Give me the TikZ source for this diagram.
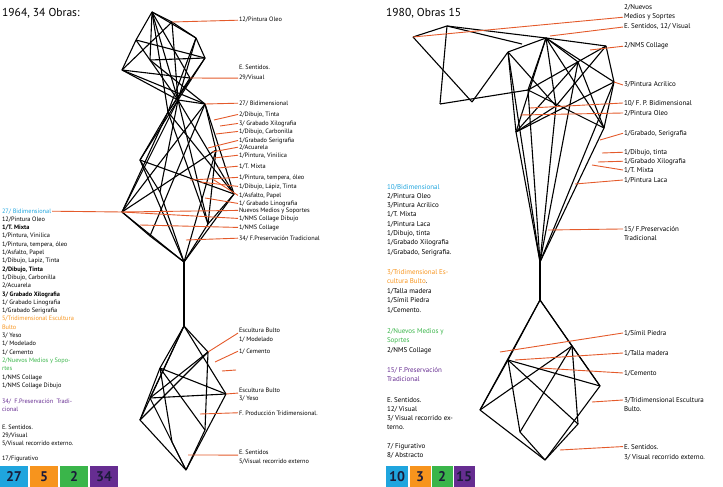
\documentclass[tikz,border=0pt]{standalone}
\usepackage{fontspec}
\setmainfont{PT Sans}
\definecolor{lineorange}{HTML}{E45A2B}
\definecolor{legblue}{HTML}{1FA5DE}
\definecolor{legorange}{HTML}{F7941D}
\definecolor{leggreen}{HTML}{3AB54A}
\definecolor{legpurple}{HTML}{662D91}
\definecolor{boxtext}{HTML}{1B1B3A}
\tikzset{
  net/.style={black,line width=1.1pt,line join=round},
  conn/.style={lineorange,line width=0.9pt},
  lbl/.style={anchor=base west,inner sep=0.8pt,font=\fontsize{6.3}{7}\selectfont},
  rlbl/.style={anchor=base west,inner sep=0.8pt,font=\fontsize{7}{8}\selectfont},
  ttl/.style={anchor=base west,inner sep=0pt,font=\fontsize{11.5}{12}\selectfont},
  legbox/.style={minimum height=21pt,inner sep=0pt,text=boxtext,font=\fontsize{14}{14}\selectfont\bfseries}
}
\begin{document}
\begin{tikzpicture}[x=1pt,y=-1pt]
\useasboundingbox (0,0) rectangle (723,487);
\node[ttl] at (2,17){1964, 34 Obras:};
\node[ttl] at (386,17){1980, Obras 15};
%left network
\coordinate (a1) at (152,12); \coordinate (a2) at (172,22); \coordinate (a3) at (136,40);
\coordinate (a4) at (196,38); \coordinate (a5) at (122,70); \coordinate (a6) at (205,58);
\coordinate (a7) at (150,60); \coordinate (a8) at (190,78);
\coordinate (h1) at (178,100); \coordinate (h2) at (205,104); \coordinate (h3) at (168,112);
\coordinate (m1) at (122,212); \coordinate (m2) at (234,194); \coordinate (m3) at (140,160);
\coordinate (m4) at (216,150); \coordinate (m5) at (160,192); \coordinate (m6) at (208,224);
\coordinate (m7) at (150,236);
\coordinate (b1) at (184,262); \coordinate (b2) at (184,326);
\coordinate (l1) at (140,420); \coordinate (l2) at (226,394); \coordinate (l3) at (186,470);
\coordinate (l4) at (160,368); \coordinate (l5) at (208,352); \coordinate (l6) at (172,442);
\coordinate (l7) at (205,430); \coordinate (l8) at (150,398);
\foreach \a/\b in {a1/a2,a1/a3,a1/a4,a1/a7,a1/a8,a1/h1,a1/h3,a2/a4,a2/a5,a2/h1,a3/a5,a3/h1,a3/a6,
  a4/a6,a4/h1,a4/h3,a5/h1,a5/h2,a6/h1,a6/h3,a7/h2,a8/h3,a7/a6,a5/a8,
  h1/h2,h1/m1,h1/m2,h1/m3,h1/m5,h1/m6,h2/m1,h2/m2,h2/m4,h2/m7,h3/m3,h3/m2,h3/m6,h3/m1,
  m3/m5,m4/m6,m1/m4,m3/m2,m1/b1,m2/b1,m3/b1,m4/b1,m5/b1,m6/b1,m7/b1,m1/m7,m2/m6,b1/b2,
  b2/l1,b2/l2,b2/l4,b2/l5,b2/l8,l1/l3,l2/l3,l4/l6,l5/l7,l4/l7,l5/l8,l8/l3,l6/l3,l7/l3,
  l1/l5,l2/l4,l8/l2,l1/l4}
  \draw[net] (\a)--(\b);
%right network
\coordinate (r1) at (413,37); \coordinate (r2) at (447,26); \coordinate (r3) at (472,102);
\coordinate (r4) at (440,104); \coordinate (r5) at (522,44);
\coordinate (s1) at (546,38); \coordinate (s2) at (606,46); \coordinate (s3) at (614,82);
\coordinate (s4) at (508,52); \coordinate (s5) at (516,132); \coordinate (s6) at (604,128);
\coordinate (s7) at (556,106); \coordinate (s8) at (528,90); \coordinate (s9) at (578,62);
\coordinate (s10) at (540,262); \coordinate (s11) at (540,300);
\coordinate (t1) at (480,410); \coordinate (t2) at (600,386); \coordinate (t3) at (545,460);
\coordinate (t4) at (508,360); \coordinate (t5) at (572,346); \coordinate (t6) at (520,432);
\coordinate (t7) at (578,424);
\foreach \a/\b in {r1/r2,r1/r3,r2/r4,r2/r5,r3/s4,r4/s8,r2/s1,
  s1/s2,s1/s4,s1/s5,s1/s6,s1/s7,s1/s8,s1/s9,s1/s3,s2/s3,s2/s7,s2/s8,s3/s6,s3/s5,s4/s5,s4/s7,
  s9/s5,s9/s6,s8/s6,s7/s5,s5/s10,s6/s10,s7/s10,s8/s10,s4/s10,s3/s10,s9/s10,s10/s11,
  s11/t1,s11/t2,s11/t4,s11/t5,t1/t3,t2/t3,t4/t6,t5/t7,t4/t7,t5/t6,t6/t3,t7/t3,t1/t5,t2/t4,t1/t4,t2/t5}
  \draw[net] (\a)--(\b);
%labels of the left figure
\node[lbl] (p1) at (238,22){12/Pintura Oleo};
\node[lbl] at (238,70){E. Sentidos.};
\node[lbl] (p2) at (238,80){29/Visual};
\node[lbl] (p3) at (238,105){27/ Bidimensional};
\node[lbl] (p4) at (238,116){2/Dibujo, Tinta};
\node[lbl] (p5) at (238,125){3/ Grabado Xilografia};
\node[lbl] (p6) at (238,133){1/Dibujo, Carbonilla};
\node[lbl] (p7) at (238,142){1/Grabado Serigrafia};
\node[lbl] (p8) at (238,149){2/Acuarela};
\node[lbl] (p9) at (238,157){1/Pintura, Vinilica};
\node[lbl] (p10) at (238,168){1/T. Mixta};
\node[lbl] (p11) at (238,179){1/Pintura, tempera, óleo};
\node[lbl] (p12) at (238,188){1/Dibujo, Lápiz, Tinta};
\node[lbl] (p13) at (238,197){1/Asfalto, Papel};
\node[lbl] (p14) at (238,205){1/ Grabado Linografia};
\node[lbl] (p15) at (238,212){Nuevos Medios y Soportes};
\node[lbl] (p16) at (238,220){1/NMS Collage Dibujo};
\node[lbl] (p17) at (238,229){1/NMS Collage};
\node[lbl] (p18) at (238,240){34/ F.Preservación Tradicional};
\draw[conn] (a2)--(p1.west);
\draw[conn] (a8)--(p2.west);
\draw[conn] (h2)--(p3.west);
\draw[conn] (214,120)--(p4.west);
\draw[conn] (220,126)--(p5.west);
\draw[conn] (216,134)--(p6.west);
\draw[conn] (208,148)--(p7.west);
\draw[conn] (212,152)--(p8.west);
\draw[conn] (214,158)--(p9.west);
\draw[conn] (218,168)--(p10.west);
\draw[conn] (190,180)--(p11.west);
\draw[conn] (200,182)--(p12.west);
\draw[conn] (214,180)--(p13.west);
\draw[conn] (205,198)--(p14.west);
\draw[conn] (m1)--(p15.west);
\draw[conn] (m1)--(p16.west);
\draw[conn] (140,225)--(p17.west);
\draw[conn] (186,240)--(p18.west);
%lower left labels
\node[lbl] (q0) at (238,332){Escultura Bulto};
\node[lbl] at (238,341){1/ Modelado};
\node[lbl] (q2) at (238,353){1/ Cemento};
\node[lbl] (q3) at (238,392){Escultura Bulto};
\node[lbl] at (238,400){3/ Yeso};
\node[lbl] (q5) at (238,415){F. Producción Tridimensional.};
\node[lbl] (q6) at (238,454){E. Sentidos};
\node[lbl] at (238,463){5/Visual recorrido externo};
\draw[conn] (l5)--(q0.south west);
\draw[conn] (215,362)--(q2.west);
\coordinate (free) at (236,370);
\draw[conn] (222,371)--(free);
\draw[conn] (l2)--(q3.south west);
\draw[conn] (200,414)--(q5.west);
\draw[conn] (188,455)--(q6.south west);
%left legend
\foreach \t [count=\i from 0] in {{\color{legblue}27/ Bidimensional},{12/Pintura Oleo},{\bfseries 1/T. Mixta},
  {1/Pintura, Vinilica},{1/Pintura, tempera, óleo},{1/Asfalto, Papel},{1/Dibujo, Lapiz, Tinta},
  {\bfseries 2/Dibujo, Tinta},{1/Dibujo, Carbonilla},{2/Acuarela},{\bfseries 3/ Grabado Xilografia},
  {1/ Grabado Linografia},{1/Grabado Serigrafia},{\color{legorange}5/Tridimensional Escultura},
  {\color{legorange}Bulto},{3/ Yeso},{1/ Modelado},{1/ Cemento},{\color{leggreen}2/Nuevos Medios y Sopo-},
  {\color{leggreen}rtes},{1/NMS Collage},{1/NMS Collage Dibujo}}
  \node[lbl] (lg\i) at (1,{213+8.3*\i}){\t};
\draw[conn] (lg0.east)--(m1);
\node[lbl] at (1,403){\color{legpurple}34/ \ F.Preservación \ Tradi-};
\node[lbl] at (1,411.5){\color{legpurple}cional};
\node[lbl] at (1,429){E. Sentidos.};
\node[lbl] at (1,437.3){29/Visual};
\node[lbl] at (1,445.6){5/Visual recorrido externo.};
\node[lbl] at (1,460){17/Figurativo};
\node[legbox,fill=legblue,minimum width=28pt] at (14,476.5){27};
\node[legbox,fill=legorange,minimum width=28.5pt] at (44,476.5){5};
\node[legbox,fill=leggreen,minimum width=28.5pt] at (74,476.5){2};
\node[legbox,fill=legpurple,minimum width=28.5pt] at (104,476.5){34};
%labels of the right figure
\node[rlbl] at (623,10){2/Nuevos};
\node[rlbl] (rl2) at (623,19){Medios y Soprtes};
\node[rlbl] (rl3) at (623,29){E. Sentidos, 12/ Visual};
\node[rlbl] (rl4) at (623,48){2/NMS Collage};
\node[rlbl] (rl5) at (623,87){3/Pintura Acrilico};
\node[rlbl] (rl6) at (623,105){10/ F. P. Bidimensional};
\node[rlbl] (rl7) at (623,115){2/Pintura Oleo};
\node[rlbl] (rl8) at (623,135){1/Grabado, Serigrafia};
\node[rlbl] (rl9) at (623,154){1/Dibujo, tinta};
\node[rlbl] (rl10) at (623,163){1/Grabado Xilografia};
\node[rlbl] (rl11) at (623,172){1/T. Mixta};
\node[rlbl] (rl12) at (623,182){1/Pintura Laca};
\node[rlbl] (rl13) at (623,231){15/ F.Preservación};
\node[rlbl] at (623,240){Tradicional};
\node[rlbl] (rl15) at (623,335){1/Símil Piedra};
\node[rlbl] (rl16) at (623,355){1/Talla madera};
\node[rlbl] (rl17) at (623,375){1/Cemento};
\node[rlbl] (rl18) at (623,402){3/Tridimensional Escultura};
\node[rlbl] at (623,411){Bulto.};
\node[rlbl] (rl20) at (623,449){E. Sentidos.};
\node[rlbl] at (623,459){3/ Visual recorrido externo.};
\draw[conn] (r1)--(rl2.west);
\draw[conn] (550,36)--(rl3.west);
\draw[conn] (590,50)--(rl4.west);
\draw[conn] (s3)--(rl5.west);
\draw[conn] (530,108)--(rl6.west);
\draw[conn] (520,115)--(rl7.west);
\draw[conn] (600,140)--(rl8.west);
\draw[conn] (602,153)--(rl9.west);
\draw[conn] (598,162)--(rl10.west);
\draw[conn] (592,165)--(rl11.west);
\draw[conn] (575,184)--(rl12.west);
\draw[conn] (548,230)--(rl13.west);
\draw[conn] (500,352)--(rl15.west);
\draw[conn] (515,360)--(rl16.west);
\draw[conn] (540,368)--(rl17.west);
\draw[conn] (592,402)--(rl18.west);
\draw[conn] (560,450)--(rl20.west);
%right legend
\foreach \t [count=\i from 0] in {{\color{legblue}10/Bidimensional},{2/Pintura Oleo},{3/Pintura Acrilico},
  {1/T. Mixta},{1/Pintura Laca},{1/Dibujo, tinta},{1/Grabado Xilografia},{1/Grabado, Serigrafia.}}
  \node[rlbl] at (386,{189+9.3*\i}){\t};
\foreach \t [count=\i from 0] in {{\color{legorange}3/Tridimensional Es-},{\color{legorange}cultura Bulto}.,
  {1/Talla madera},{1/Símil Piedra},{1/Cemento.}}
  \node[rlbl] at (386,{274+9.5*\i}){\t};
\node[rlbl] at (386,333){\color{leggreen}2/Nuevos Medios y};
\node[rlbl] at (386,342.5){\color{leggreen}Soprtes};
\node[rlbl] at (386,352){2/NMS Collage};
\node[rlbl] at (386,372){\color{legpurple}15/ F.Preservación};
\node[rlbl] at (386,381.5){\color{legpurple}Tradicional};
\foreach \t [count=\i from 0] in {{E. Sentidos.},{12/ Visual},{3/ Visual recorrido ex-},{terno.}}
  \node[rlbl] at (386,{402+9.3*\i}){\t};
\node[rlbl] at (386,448){7/ Figurativo};
\node[rlbl] at (386,457.3){8/ Abstracto};
\node[legbox,fill=legblue,minimum width=22pt] at (397,476.5){10};
\node[legbox,fill=legorange,minimum width=21pt] at (420,476.5){3};
\node[legbox,fill=leggreen,minimum width=21pt] at (442,476.5){2};
\node[legbox,fill=legpurple,minimum width=21pt] at (464,476.5){15};
\end{tikzpicture}
\end{document}
